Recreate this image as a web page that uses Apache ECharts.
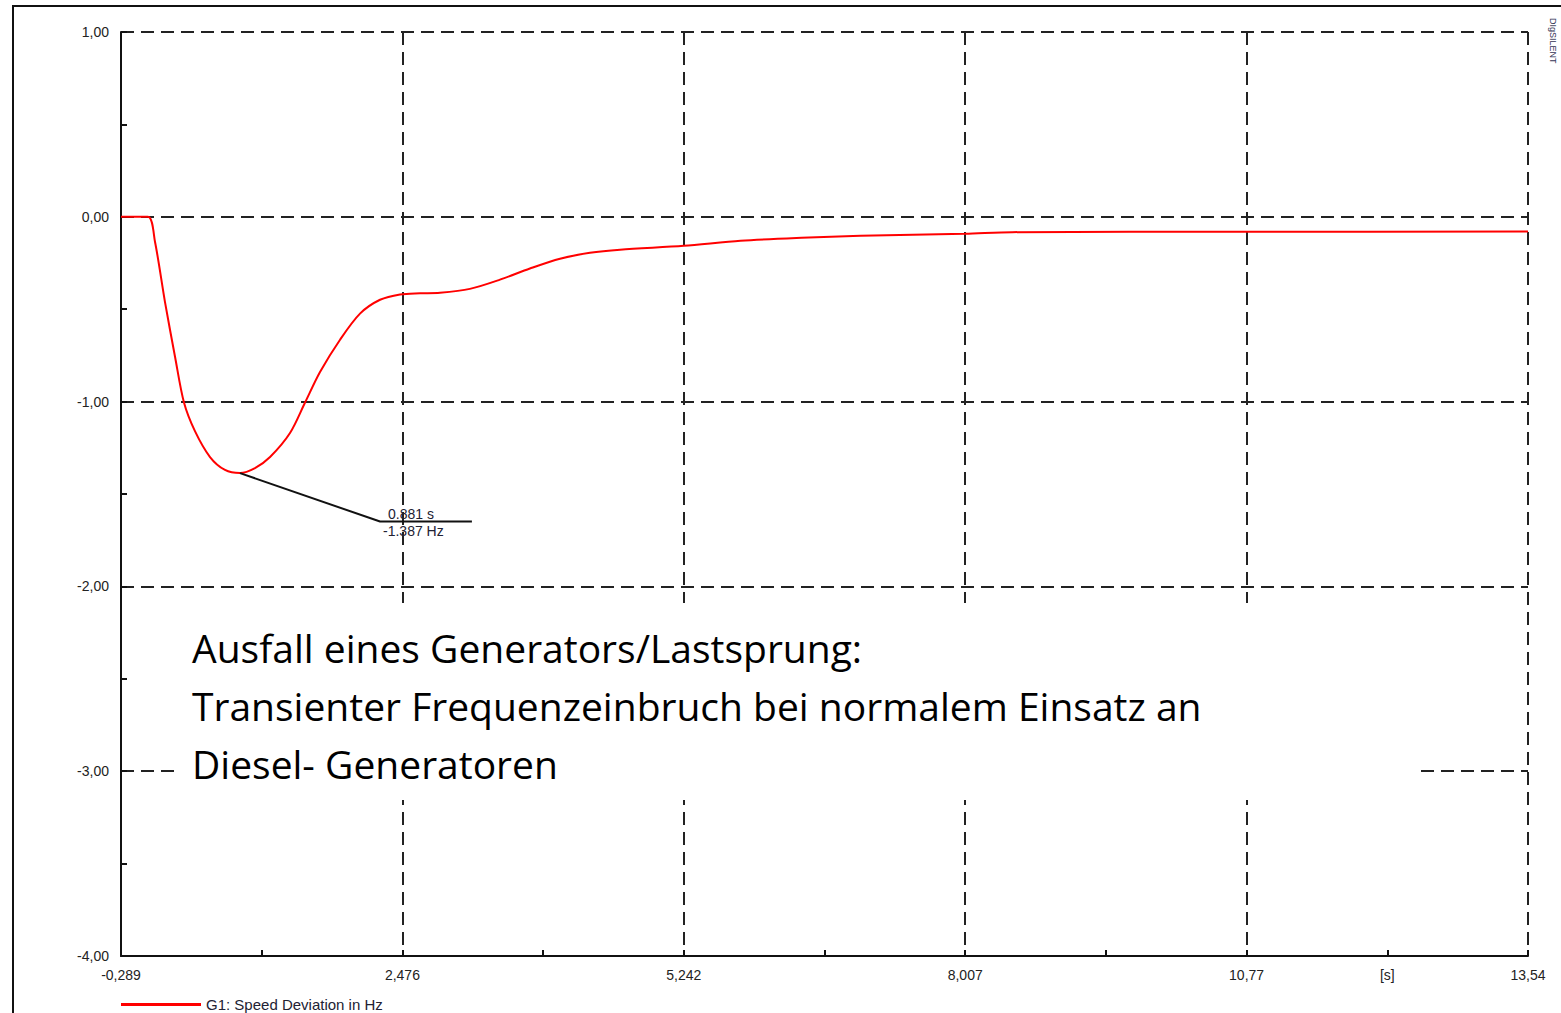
<!DOCTYPE html>
<html><head><meta charset="utf-8">
<script src="https://cdn.jsdelivr.net/npm/echarts@6/dist/echarts.min.js"></script>
<style>html,body{margin:0;padding:0;background:#ececec;}#c{width:1561px;height:1013px;}</style>
</head><body><div id="c"></div>
<script>
const xMin = -0.289, xMax = 13.54;
const xTickLabels = ['-0,289', '2,476', '5,242', '8,007', '10,77', '13,54'];
const yTickLabels = ['-4,00', '-3,00', '-2,00', '-1,00', '0,00', '1,00'];
const timeS = [-0.289, -0.024, 0.045, 0.143, 0.242, 0.33, 0.438, 0.586, 0.733, 0.881, 1.028, 1.176, 1.372, 1.52, 1.667, 1.864, 2.06, 2.257, 2.453, 2.65, 2.846, 3.14, 3.436, 3.73, 4.026, 4.32, 4.616, 5.242, 5.8, 6.4, 6.98, 8.007, 8.47, 10.77, 13.54];
const speedDevHz = [0, 0, -0.135, -0.46, -0.757, -1.005, -1.16, -1.30, -1.37, -1.387, -1.36, -1.30, -1.17, -1.005, -0.84, -0.665, -0.524, -0.449, -0.42, -0.414, -0.411, -0.39, -0.34, -0.28, -0.227, -0.195, -0.178, -0.157, -0.13, -0.114, -0.103, -0.092, -0.083, -0.081, -0.08];
const markerX = [0.881, 2.257, 3.16];
const markerY = [-1.387, -1.649, -1.649];
const markerText = ['0.881 s', '-1.387 Hz'];
const legendName = 'G1: Speed Deviation in Hz';
const captionLines = ['Ausfall eines Generators/Lastsprung:', 'Transienter Frequenzeinbruch bei normalem Einsatz an', 'Diesel- Generatoren'];

const xInterval = (xMax - xMin) / 5;
const chart = echarts.init(document.getElementById('c'), null, {renderer: 'svg'});
const lbl = {fontFamily: 'Liberation Sans, Arial, sans-serif', fontSize: 14, color: '#222'};
const dashed = {color: '#222', width: 2, type: [13, 7]};
chart.setOption({
  backgroundColor: 'transparent',
  animation: false,
  grid: {left: 121, right: 33, top: 32, bottom: 57},
  legend: {
    left: 116, top: 992, itemWidth: 80, itemHeight: 3, icon: 'rect', itemGap: 10,
    textStyle: {fontFamily: 'Liberation Sans, Arial, sans-serif', fontSize: 15, color: '#223'},
    data: [legendName]
  },
  xAxis: {
    type: 'value', min: xMin, max: xMax, interval: xInterval,
    axisLine: {onZero: false, lineStyle: {color: '#111', width: 2}},
    axisTick: {inside: true, length: 6, lineStyle: {color: '#111', width: 2}},
    minorTick: {show: true, splitNumber: 2, length: 6, lineStyle: {color: '#111', width: 2}},
    splitLine: {show: true, lineStyle: dashed},
    axisLabel: Object.assign({margin: 12, showMaxLabel: true, showMinLabel: true,
      formatter: v => xTickLabels[Math.round((v - xMin) / xInterval)] || ''}, lbl)
  },
  yAxis: {
    type: 'value', min: -4, max: 1, interval: 1,
    axisLine: {show: true, onZero: false, lineStyle: {color: '#111', width: 2}},
    axisTick: {inside: true, length: 6, lineStyle: {color: '#111', width: 2}},
    minorTick: {show: true, splitNumber: 2, length: 6, lineStyle: {color: '#111', width: 2}},
    splitLine: {show: true, lineStyle: dashed},
    axisLabel: Object.assign({margin: 12, formatter: v => yTickLabels[Math.round(v + 4)]}, lbl)
  },
  series: [
    {name: legendName, type: 'line', data: timeS.map((t, i) => [t, speedDevHz[i]]),
     smooth: 0.3, showSymbol: false, lineStyle: {color: '#ff0000', width: 2}, itemStyle: {color: '#ff0000'}, z: 5},
    {name: 'marker', type: 'line', data: markerX.map((t, i) => [t, markerY[i]]),
     showSymbol: false, lineStyle: {color: '#111', width: 2}, z: 6}
  ]
});

function place() {
  const p1 = chart.convertToPixel({gridIndex: 0}, [markerX[1], markerY[1]]);
  const sPos = chart.convertToPixel({gridIndex: 0}, [xMax - xInterval / 2, -4]);
  const els = [
    {type: 'rect', shape: {x: 13, y: 6, width: 1600, height: 1100}, style: {fill: 'none', stroke: '#111', lineWidth: 2}, z: 0, silent: true},
    {type: 'text', style: {x: p1[0] + 8, y: p1[1] - 1, text: markerText[0], textVerticalAlign: 'bottom', fontFamily: 'Liberation Sans, Arial, sans-serif', fontSize: 14, fill: '#223'}, z: 20},
    {type: 'text', style: {x: p1[0] + 3, y: p1[1] + 2, text: markerText[1], textVerticalAlign: 'top', fontFamily: 'Liberation Sans, Arial, sans-serif', fontSize: 14, fill: '#223'}, z: 20},
    {type: 'text', style: {x: sPos[0], y: sPos[1] + 12, text: '[s]', textAlign: 'center', textVerticalAlign: 'top', fontFamily: 'Liberation Sans, Arial, sans-serif', fontSize: 14, fill: '#222'}, z: 20},
    {type: 'rect', shape: {x: 175, y: 603, width: 1243, height: 197}, style: {fill: '#fff'}, z: 30},
    {type: 'text', rotation: -Math.PI / 2, x: 1553, y: 18, style: {x: 0, y: 0, text: 'DIgSILENT', textAlign: 'left', textVerticalAlign: 'middle', fontFamily: 'Liberation Sans, Arial, sans-serif', fontSize: 9, fill: '#335'}, z: 20}
  ];
  captionLines.forEach((t, i) => {
    els.push({type: 'text', style: {x: 192, y: 647 + i * 58, text: t, textVerticalAlign: 'middle', fontFamily: 'Open Sans, sans-serif', fontSize: 39, fill: '#000'}, z: 31});
  });
  chart.setOption({graphic: {elements: els}});
}
place();
</script>
<style>#c{background:#fff;}</style>
</body></html>
